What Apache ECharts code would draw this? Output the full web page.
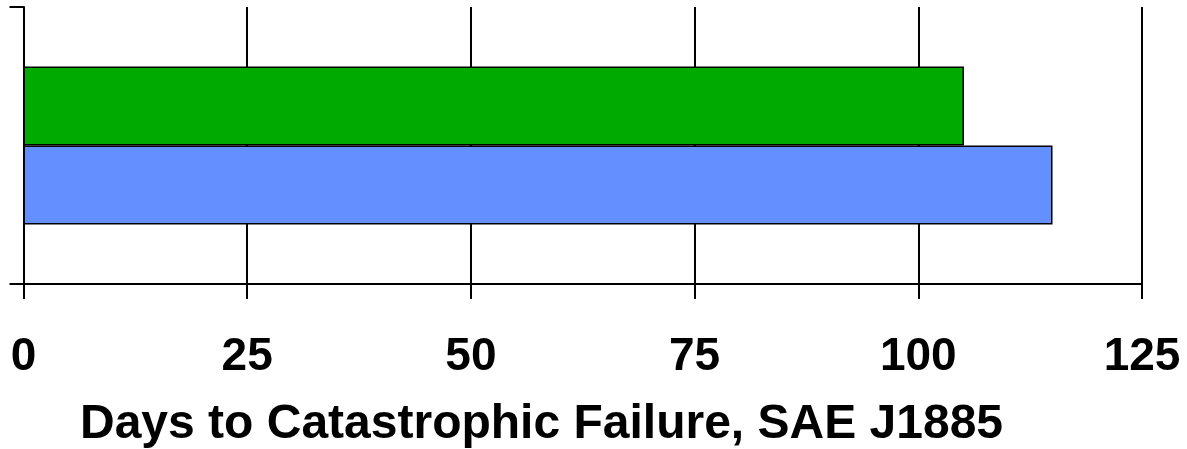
<!DOCTYPE html>
<html>
<head>
<meta charset="utf-8">
<script src="https://cdn.jsdelivr.net/npm/echarts@6/dist/echarts.min.js"></script>
<style>
html,body{margin:0;padding:0;background:#fff;}
#chart{width:1187px;height:449px;}
</style>
</head>
<body>
<div id="chart"></div>
<script>
const categories = [''];
const greenValues = [105.1];
const blueValues = [115];
const xTicks = [0, 25, 50, 75, 100, 125];
const axisTitle = 'Days to Catastrophic Failure, SAE J1885';

const chart = echarts.init(document.getElementById('chart'), null, {renderer: 'canvas'});
const font = '"Liberation Sans", Arial, sans-serif';
chart.setOption({
  animation: false,
  backgroundColor: '#ffffff',
  title: {
    text: axisTitle,
    left: 80,
    top: 401,
    padding: 0,
    textStyle: {fontFamily: font, fontWeight: 'bold', fontSize: 48, color: '#000'}
  },
  grid: {left: 23.5, top: 7, width: 1118.5, height: 277},
  xAxis: {
    type: 'value',
    min: xTicks[0],
    max: xTicks[xTicks.length - 1],
    interval: 25,
    axisLine: {show: true, lineStyle: {color: '#000', width: 2}},
    axisTick: {show: true, length: 15, lineStyle: {color: '#000', width: 2}},
    splitLine: {show: true, lineStyle: {color: '#000', width: 2}},
    axisLabel: {margin: 50, fontFamily: font, fontWeight: 'bold', fontSize: 46, color: '#000'}
  },
  yAxis: {
    type: 'category',
    data: categories,
    axisLine: {show: true, lineStyle: {color: '#000', width: 2}},
    axisTick: {show: true, length: 14, lineStyle: {color: '#000', width: 2}},
    axisLabel: {show: false},
    splitLine: {show: false}
  },
  series: [
    {
      name: 'Series 1',
      type: 'bar',
      data: greenValues,
      barWidth: 79,
      barGap: '0%',
      itemStyle: {color: '#00AA00', borderColor: '#000', borderWidth: 1.5}
    },
    {
      name: 'Series 2',
      type: 'bar',
      data: blueValues,
      barWidth: 79,
      barGap: '0%',
      itemStyle: {color: '#638FFF', borderColor: '#000', borderWidth: 1.5}
    }
  ]
});
</script>
</body>
</html>
